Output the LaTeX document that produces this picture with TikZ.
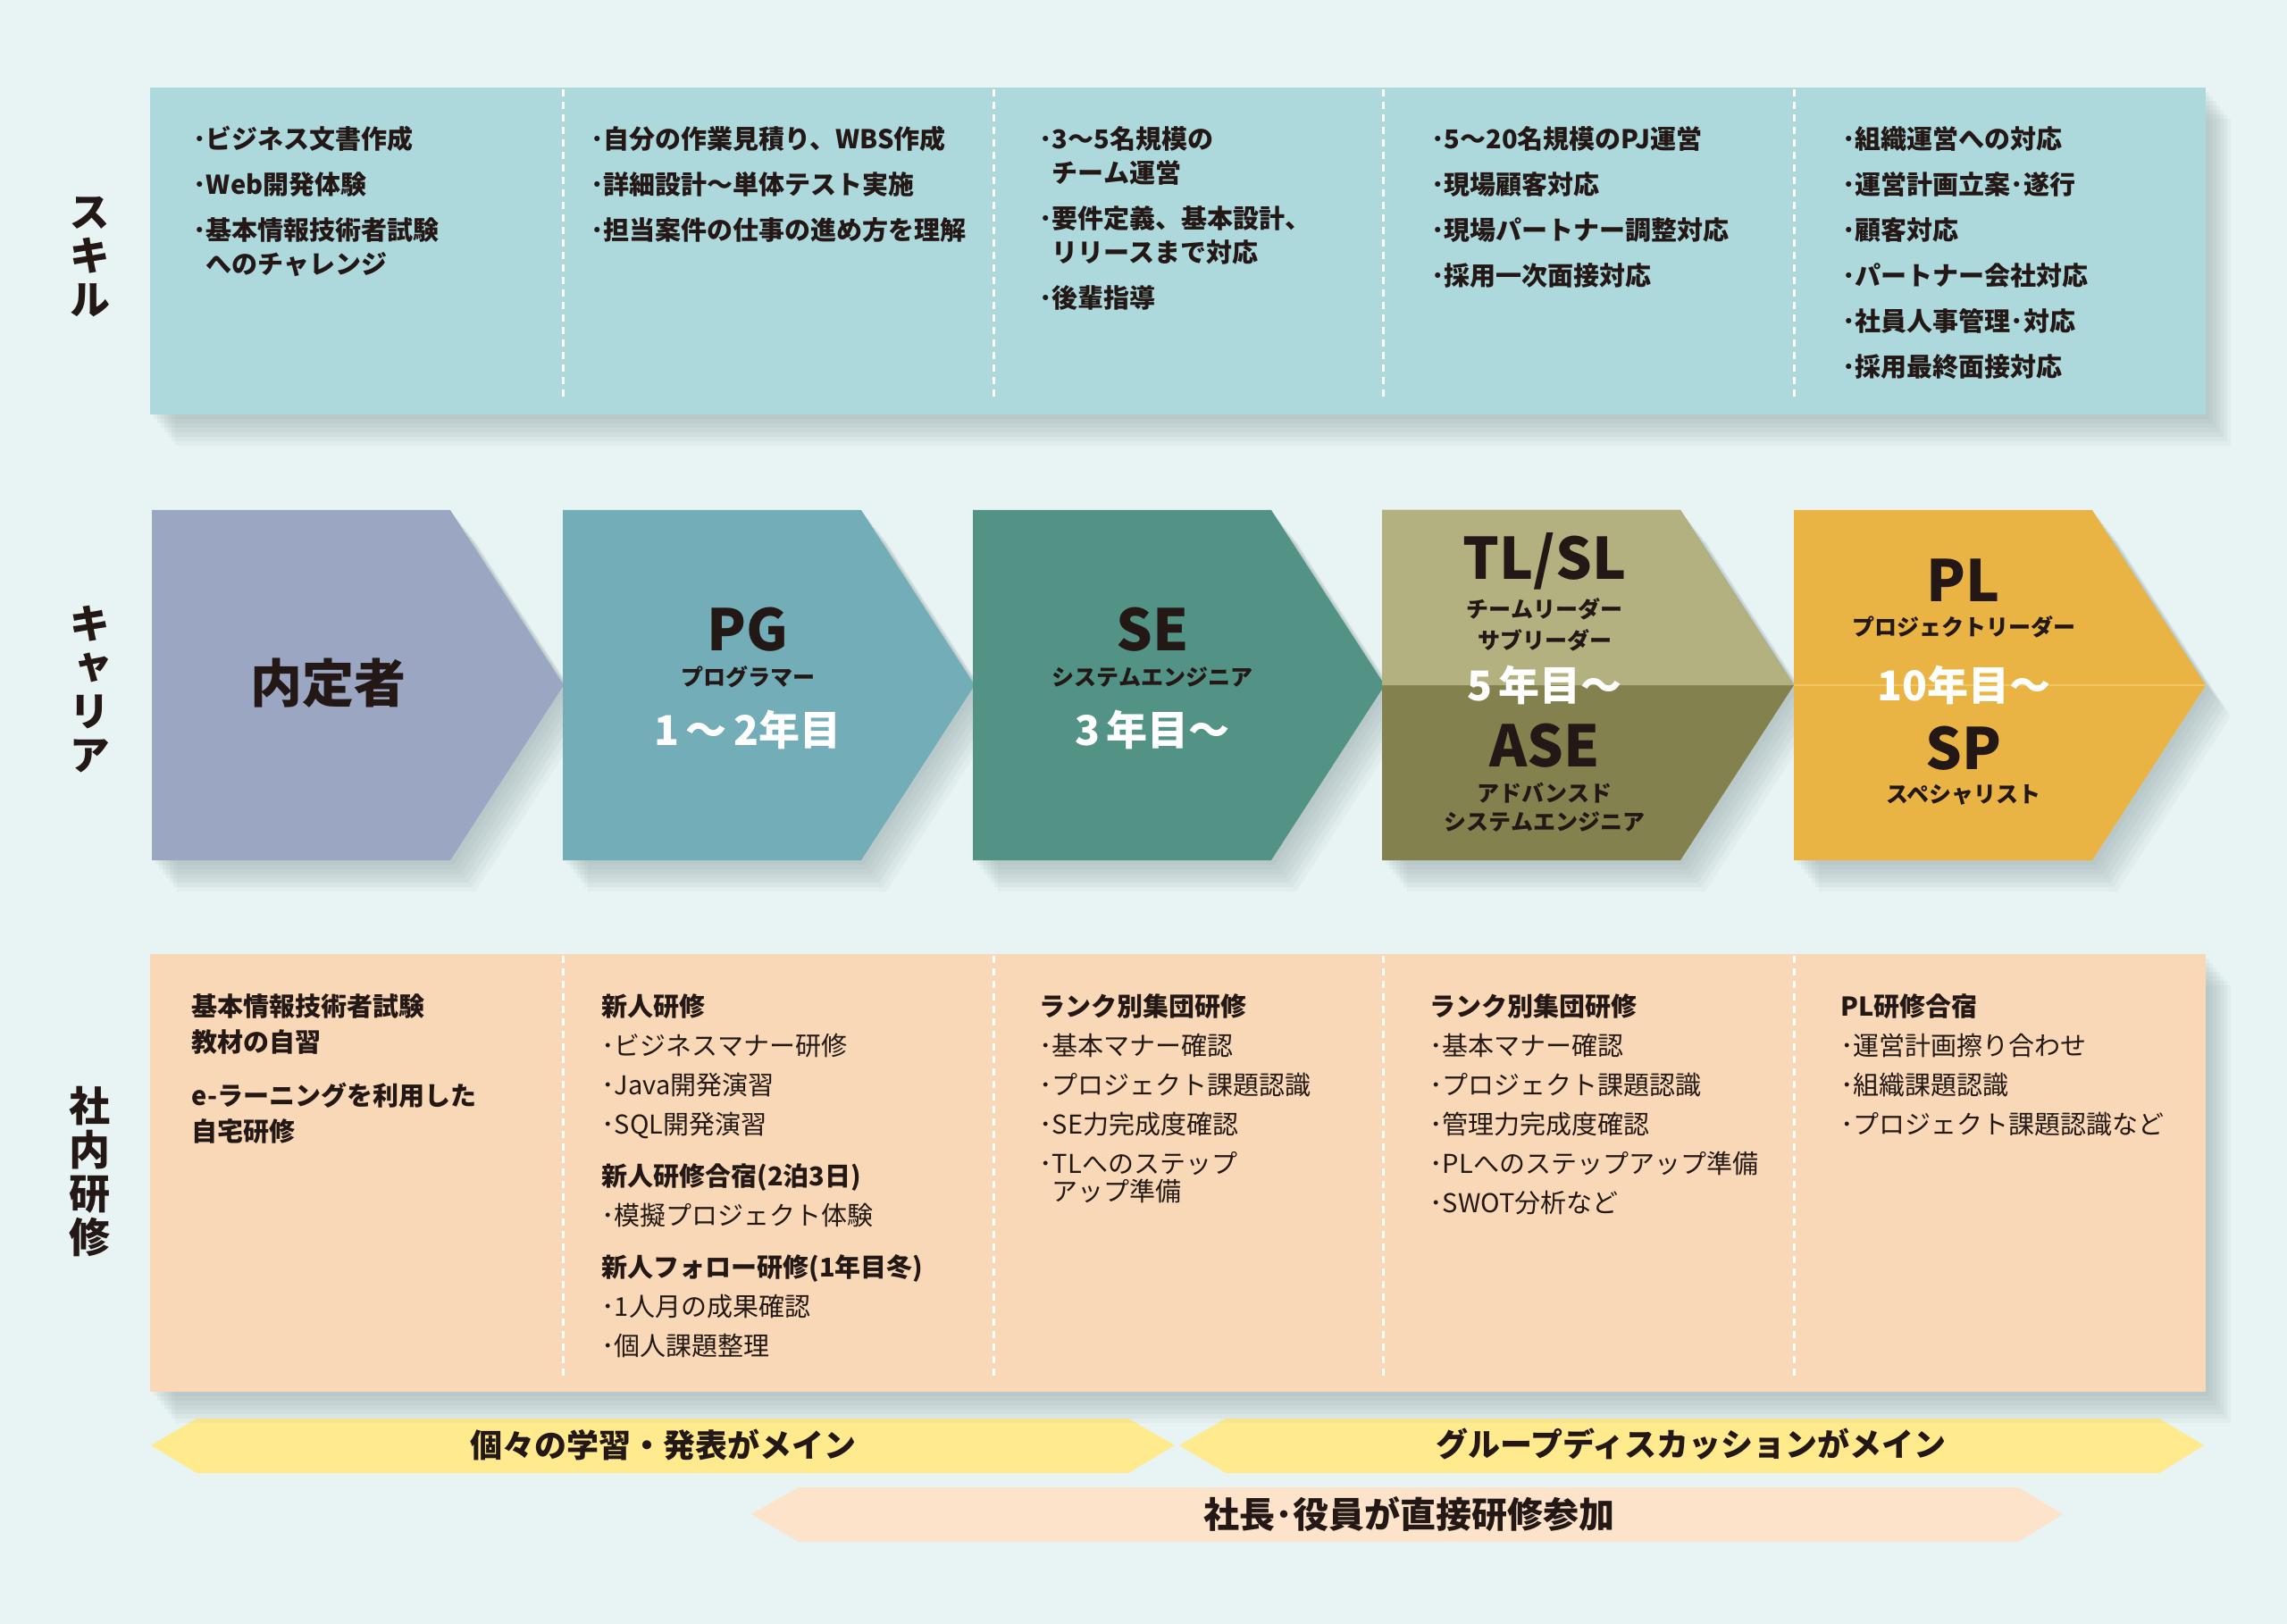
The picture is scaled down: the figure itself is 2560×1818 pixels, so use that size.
\documentclass[tikz,border=0pt]{standalone}
\usepackage{fontspec}
\setmainfont{Noto Sans CJK JP}
\newfontfamily\vjp[RawFeature=+vert]{Noto Sans CJK JP}
\usetikzlibrary{shadows}
\definecolor{bg}{HTML}{E8F4F3}
\definecolor{skillbg}{HTML}{ADD8DC}
\definecolor{trainbg}{HTML}{F8D8B6}
\definecolor{chvA}{HTML}{9AA6C2}
\definecolor{chvB}{HTML}{72ADB8}
\definecolor{chvC}{HTML}{539386}
\definecolor{chvD}{HTML}{B2B17F}
\definecolor{chvE}{HTML}{83824F}
\definecolor{chvF}{HTML}{E9B444}
\definecolor{chvline}{HTML}{F0C563}
\definecolor{bandY}{HTML}{FFEA8E}
\definecolor{bandP}{HTML}{FCE3CA}
\definecolor{ink}{HTML}{231815}
\definecolor{shadowc}{HTML}{8A9C9F}

\begin{document}
\begin{tikzpicture}[x=0.5pt, y=-0.5pt,
  soft shadow/.style={drop shadow={shadow xshift=2pt, shadow yshift=-2.5pt, opacity=.09, fill=shadowc},
    drop shadow={shadow xshift=4pt, shadow yshift=-5pt, opacity=.09, fill=shadowc},
    drop shadow={shadow xshift=6pt, shadow yshift=-7.5pt, opacity=.09, fill=shadowc},
    drop shadow={shadow xshift=8pt, shadow yshift=-10pt, opacity=.09, fill=shadowc},
    drop shadow={shadow xshift=10pt, shadow yshift=-12.5pt, opacity=.09, fill=shadowc},
    drop shadow={shadow xshift=12pt, shadow yshift=-15pt, opacity=.09, fill=shadowc},
    drop shadow={shadow xshift=14pt, shadow yshift=-17.5pt, opacity=.07, fill=shadowc}},
  divider/.style={white, line width=1.5pt, dash pattern=on 4pt off 3pt},
  rowlabel/.style={align=center, inner sep=0pt, text=ink, font=\vjp\bfseries\fontsize{23}{24.5}\selectfont},
  skilltxt/.style={anchor=north west, align=left, inner sep=0pt, text=ink, font=\bfseries\fontsize{14.5}{19}\selectfont},
  traintxt/.style={anchor=north west, align=left, inner sep=0pt, text=ink, font=\fontsize{14.5}{22}\selectfont},
  rolebig/.style={inner sep=0pt, text=ink, font=\bfseries\fontsize{32}{32}\selectfont},
  rolesub/.style={inner sep=0pt, text=ink, font=\bfseries\fontsize{12.5}{16}\selectfont},
  roleyear/.style={inner sep=0pt, text=white, font=\bfseries\fontsize{23}{23}\selectfont},
  bandtxt/.style={inner sep=0pt, text=ink, font=\bfseries\fontsize{18}{18}\selectfont}]
  \useasboundingbox (0,0) rectangle (2560,1818);
  \fill[bg] (0,0) rectangle (2560,1818);

  % skills
  \fill[skillbg, soft shadow] (168,98) rectangle (2469,464);
  \foreach \x in {630,1112,1548,2008}
    \draw[divider] (\x,100) -- (\x,450);

  % career chevrons
  \foreach \l/\c in {170/chvA, 630/chvB, 1089/chvC, 1547/chvE, 2008/chvF}
    \fill[\c, soft shadow] (\l,571) -- ++(334,0) -- ++(127,196) -- ++(-127,196) -- ++(-334,0) -- cycle;
  \fill[chvD] (1547,571) -- (1881,571) -- (2008,767) -- (1547,767) -- cycle;
  \draw[chvline, line width=.6pt] (2008,767) -- (2469,767);

  % bands
  \fill[bandY] (169,1618) -- (220,1588) -- (1263,1588) -- (1315,1618) -- (1263,1649) -- (220,1649) -- cycle;
  \fill[bandY] (1320,1618) -- (1372,1588) -- (2417,1588) -- (2467,1618) -- (2417,1649) -- (1372,1649) -- cycle;
  \fill[bandP] (841,1695) -- (894,1665) -- (2259,1665) -- (2309,1695) -- (2259,1726) -- (894,1726) -- cycle;

  % training
  \fill[trainbg, soft shadow] (168,1068) rectangle (2469,1558);
  \foreach \x in {630,1112,1548,2008}
    \draw[divider] (\x,1070) -- (\x,1546);

  \node[rowlabel] (lblskill) at (100,288) {ス\\キ\\ル};
  \node[rowlabel] (lblcareer) at (100,772) {キ\\ャ\\リ\\ア};
  \node[rowlabel] (lbltrain) at (100,1312) {社\\内\\研\\修};

  \node[skilltxt] (skillA) at (216,141) {･ビジネス文書作成\\[6.5pt]･Web開発体験\\[6.5pt]･基本情報技術者試験\\\phantom{･}へのチャレンジ};
  \node[skilltxt] (skillB) at (661,141) {･自分の作業見積り、WBS作成\\[6.5pt]･詳細設計～単体テスト実施\\[6.5pt]･担当案件の仕事の進め方を理解};
  \node[skilltxt] (skillC) at (1163,141) {･3～5名規模の\\\phantom{･}チーム運営\\[6.5pt]･要件定義、基本設計、\\\phantom{･}リリースまで対応\\[6.5pt]･後輩指導};
  \node[skilltxt] (skillD) at (1602,141) {･5～20名規模のPJ運営\\[6.5pt]･現場顧客対応\\[6.5pt]･現場パートナー調整対応\\[6.5pt]･採用一次面接対応};
  \node[skilltxt] (skillE) at (2062,141) {･組織運営への対応\\[6.5pt]･運営計画立案･遂行\\[6.5pt]･顧客対応\\[6.5pt]･パートナー会社対応\\[6.5pt]･社員人事管理･対応\\[6.5pt]･採用最終面接対応};

  \node[rolebig, font=\bfseries\fontsize{29}{29}\selectfont] (naitei) at (367,765) {内定者};
  \node[rolebig] (pg) at (837,705) {PG};
  \node[rolesub] (pgsub) at (837,758) {プログラマー};
  \node[roleyear] (pgyear) at (837,817) {1\,～\,2年目};
  \node[rolebig] (se) at (1290,705) {SE};
  \node[rolesub] (sesub) at (1290,758) {システムエンジニア};
  \node[roleyear] (seyear) at (1290,817) {3\,年目～};
  \node[rolebig] (tl) at (1729,628) {TL/SL};
  \node[rolesub] (tlsub) at (1729,682) {チームリーダー};
  \node[rolesub] (slsub) at (1729,717) {サブリーダー};
  \node[roleyear] (tlyear) at (1729,767) {5\,年目～};
  \node[rolebig] (ase) at (1729,835) {ASE};
  \node[rolesub] (asesub) at (1729,888) {アドバンスド};
  \node[rolesub] (asesub2) at (1729,920) {システムエンジニア};
  \node[rolebig] (pl) at (2198,650) {PL};
  \node[rolesub] (plsub) at (2198,702) {プロジェクトリーダー};
  \node[roleyear] (plyear) at (2198,767) {10年目～};
  \node[rolebig] (sp) at (2198,838) {SP};
  \node[rolesub] (spsub) at (2198,890) {スペシャリスト};

  \node[traintxt] (trainA) at (214,1112) {\textbf{基本情報技術者試験}\\[-2pt]\textbf{教材の自習}\\[8pt]\textbf{e-ラーニングを利用した}\\[-2pt]\textbf{自宅研修}};
  \node[traintxt] (trainB) at (673,1112) {\textbf{新人研修}\\･ビジネスマナー研修\\･Java開発演習\\･SQL開発演習\\[7pt]\textbf{新人研修合宿(2泊3日)}\\･模擬プロジェクト体験\\[7pt]\textbf{新人フォロー研修(1年目冬)}\\･1人月の成果確認\\･個人課題整理};
  \node[traintxt] (trainC) at (1163,1112) {\textbf{ランク別集団研修}\\･基本マナー確認\\･プロジェクト課題認識\\･SE力完成度確認\\･TLへのステップ\\[-6.5pt]\phantom{･}アップ準備};
  \node[traintxt] (trainD) at (1600,1112) {\textbf{ランク別集団研修}\\･基本マナー確認\\･プロジェクト課題認識\\･管理力完成度確認\\･PLへのステップアップ準備\\･SWOT分析など};
  \node[traintxt] (trainE) at (2060,1112) {\textbf{PL研修合宿}\\･運営計画擦り合わせ\\･組織課題認識\\･プロジェクト課題認識など};

  \node[bandtxt] (solo) at (742,1617) {個々の学習・発表がメイン};
  \node[bandtxt] (group) at (1893,1617) {グループディスカッションがメイン};
  \node[bandtxt, font=\bfseries\fontsize{20}{20}\selectfont] (exec) at (1577,1695) {社長･役員が直接研修参加};
\end{tikzpicture}
\end{document}
